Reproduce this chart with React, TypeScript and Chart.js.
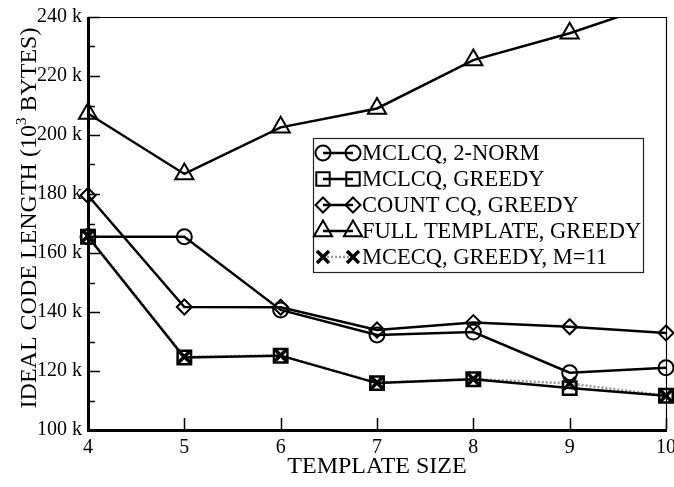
import React, { useEffect, useRef } from "react";
import { Chart, registerables } from "chart.js";

Chart.register(...registerables);

// ---- data ----
const templateSizes = [4, 5, 6, 7, 8, 9, 10];
const mclcq2Norm = [165.5, 165.5, 140.7, 132.2, 133.2, 119.4, 121.1];
const mclcqGreedy = [165.5, 124.6, 125.2, 115.9, 117.2, 114.2, 111.6];
const countCqGreedy = [179.5, 141.7, 141.6, 133.9, 136.4, 135.0, 132.9];
const fullTemplateGreedy = [207.3, 186.8, 202.6, 209.0, 225.4, 234.5, 245.5];
const mcecqGreedyM11 = [165.8, 124.8, 125.3, 116.0, 117.3, 115.8, 111.6];

const seriesNames = [
  "MCLCQ, 2-NORM",
  "MCLCQ, GREEDY",
  "COUNT CQ, GREEDY",
  "FULL TEMPLATE, GREEDY",
  "MCECQ, GREEDY, M=11",
];
const yTickValues = [100, 120, 140, 160, 180, 200, 220, 240];
const yMinorTickValues = [110, 130, 150, 170, 190, 210, 230];
const xTickValues = [4, 5, 6, 7, 8, 9, 10];
const xTickLabels = ["4", "5", "6", "7", "8", "9", "10"];
const xTitle = "TEMPLATE SIZE";
const yTitleMain = "IDEAL CODE LENGTH (10";
const yTitleSup = "3";
const yTitleEnd = " BYTES)";

const FONT = "'Liberation Serif', 'Times New Roman', serif";

type MarkerKind = "circle" | "rect" | "rectRot" | "triangle" | "crossRot";

function drawMarker(ctx: CanvasRenderingContext2D, kind: MarkerKind, x: number, y: number) {
  ctx.beginPath();
  if (kind === "circle") {
    ctx.arc(x, y, 7.5, 0, Math.PI * 2);
  } else if (kind === "rect") {
    ctx.rect(x - 6.7, y - 6.7, 13.4, 13.4);
  } else if (kind === "rectRot") {
    ctx.moveTo(x - 7.5, y);
    ctx.lineTo(x, y - 7.5);
    ctx.lineTo(x + 7.5, y);
    ctx.lineTo(x, y + 7.5);
    ctx.closePath();
  } else if (kind === "triangle") {
    const r = 10.5;
    ctx.moveTo(x, y - r);
    ctx.lineTo(x + r * Math.sin((2 * Math.PI) / 3), y + r / 2);
    ctx.lineTo(x - r * Math.sin((2 * Math.PI) / 3), y + r / 2);
    ctx.closePath();
  } else if (kind === "crossRot") {
    const h = 6;
    ctx.moveTo(x - h, y - h);
    ctx.lineTo(x + h, y + h);
    ctx.moveTo(x + h, y - h);
    ctx.lineTo(x - h, y + h);
  }
  ctx.stroke();
}

const legendKinds: MarkerKind[] = ["circle", "rect", "rectRot", "triangle", "crossRot"];

const decorPlugin = {
  id: "decor",
  afterDraw(chart: any) {
    const ctx: CanvasRenderingContext2D = chart.ctx;
    const { left, right, top, bottom } = chart.chartArea;
    const ys = chart.scales.y;
    const xs = chart.scales.x;
    ctx.save();
    ctx.strokeStyle = "#000";
    ctx.lineCap = "butt";
    // thin top / right borders
    ctx.lineWidth = 1.2;
    ctx.beginPath();
    ctx.moveTo(left, top + 0.5);
    ctx.lineTo(right + 0.5, top + 0.5);
    ctx.lineTo(right + 0.5, bottom);
    ctx.stroke();
    // thick left / bottom axes
    ctx.lineWidth = 3;
    ctx.beginPath();
    ctx.moveTo(left + 0.5, top);
    ctx.lineTo(left + 0.5, bottom + 0.5);
    ctx.lineTo(right + 1, bottom + 0.5);
    ctx.stroke();
    // inward tick marks
    ctx.lineWidth = 1.5;
    ctx.beginPath();
    yTickValues.forEach((v) => {
      const py = Math.round(ys.getPixelForValue(v)) + 0.5;
      ctx.moveTo(left, py);
      ctx.lineTo(left + 12, py);
    });
    yMinorTickValues.forEach((v) => {
      const py = Math.round(ys.getPixelForValue(v)) + 0.5;
      ctx.moveTo(left, py);
      ctx.lineTo(left + 7, py);
    });
    xTickValues.forEach((v) => {
      const px = Math.round(xs.getPixelForValue(v)) + 0.5;
      ctx.moveTo(px, bottom);
      ctx.lineTo(px, bottom - 12);
    });
    ctx.stroke();

    // x tick labels
    ctx.fillStyle = "#000";
    ctx.font = `20px ${FONT}`;
    ctx.textAlign = "center";
    ctx.textBaseline = "middle";
    xTickValues.forEach((v, i) => {
      ctx.fillText(xTickLabels[i], xs.getPixelForValue(v), 448);
    });

    // axis titles
    ctx.font = `24px ${FONT}`;
    ctx.textAlign = "center";
    ctx.textBaseline = "middle";
    ctx.fillText(xTitle, (left + right) / 2, 467);

    ctx.save();
    ctx.translate(28, 218);
    ctx.rotate(-Math.PI / 2);
    ctx.font = `24px ${FONT}`;
    const w1 = ctx.measureText(yTitleMain).width;
    ctx.font = `15px ${FONT}`;
    const w2 = ctx.measureText(yTitleSup).width;
    ctx.font = `24px ${FONT}`;
    const w3 = ctx.measureText(yTitleEnd).width;
    const total = w1 + w2 + w3;
    let sx = -total / 2;
    ctx.textAlign = "left";
    ctx.textBaseline = "alphabetic";
    ctx.fillText(yTitleMain, sx, 8);
    sx += w1;
    ctx.font = `15px ${FONT}`;
    ctx.fillText(yTitleSup, sx, -2);
    sx += w2;
    ctx.font = `24px ${FONT}`;
    ctx.fillText(yTitleEnd, sx, 8);
    ctx.restore();

    // legend
    const bx = 313, by = 138, bw = 330, bh = 134;
    ctx.fillStyle = "#fff";
    ctx.fillRect(bx, by, bw, bh);
    ctx.lineWidth = 1.2;
    ctx.strokeStyle = "#222";
    ctx.strokeRect(bx + 0.5, by + 0.5, bw, bh);
    const rowY = [153, 179, 205, 231, 257];
    const mx1 = 323, mx2 = 353;
    seriesNames.forEach((name, i) => {
      const y = rowY[i];
      const kind = legendKinds[i];
      ctx.save();
      if (kind === "crossRot") {
        ctx.strokeStyle = "#9a9a9a";
        ctx.lineWidth = 2.5;
        ctx.setLineDash([2, 2]);
      } else {
        ctx.strokeStyle = "#000";
        ctx.lineWidth = 2.5;
      }
      ctx.beginPath();
      ctx.moveTo(mx1, y);
      ctx.lineTo(mx2, y);
      ctx.stroke();
      ctx.restore();
      ctx.strokeStyle = "#000";
      ctx.lineWidth = kind === "crossRot" ? 3.5 : 2;
      drawMarker(ctx, kind, mx1, y);
      drawMarker(ctx, kind, mx2, y);
      ctx.fillStyle = "#000";
      ctx.font = `22.5px ${FONT}`;
      ctx.textAlign = "left";
      ctx.textBaseline = "middle";
      ctx.fillText(name, 362, y + 1);
    });
    ctx.restore();
  },
};

const toPoints = (vals: number[]) => templateSizes.map((x, i) => ({ x, y: vals[i] }));

export default function App() {
  const ref = useRef<HTMLCanvasElement | null>(null);

  useEffect(() => {
    if (!ref.current) return;
    const noClip = { left: 14, right: 14, top: 14, bottom: 14 };
    const chart = new Chart(ref.current, {
      type: "line",
      data: {
        datasets: [
          {
            label: seriesNames[0],
            data: toPoints(mclcq2Norm),
            borderColor: "#000",
            borderWidth: 2.5,
            pointStyle: "circle",
            pointRadius: 7.5,
            pointBorderWidth: 2,
            pointBorderColor: "#000",
            pointBackgroundColor: "rgba(0,0,0,0)",
            clip: noClip,
          },
          {
            label: seriesNames[1],
            data: toPoints(mclcqGreedy),
            borderColor: "#000",
            borderWidth: 2.5,
            pointStyle: "rect",
            pointRadius: 9.5,
            pointBorderWidth: 2.5,
            pointBorderColor: "#000",
            pointBackgroundColor: "rgba(0,0,0,0)",
            clip: noClip,
          },
          {
            label: seriesNames[2],
            data: toPoints(countCqGreedy),
            borderColor: "#000",
            borderWidth: 2.5,
            pointStyle: "rectRot",
            pointRadius: 7.5,
            pointBorderWidth: 2,
            pointBorderColor: "#000",
            pointBackgroundColor: "rgba(0,0,0,0)",
            clip: noClip,
          },
          {
            label: seriesNames[3],
            data: toPoints(fullTemplateGreedy),
            borderColor: "#000",
            borderWidth: 2.5,
            pointStyle: "triangle",
            pointRadius: 10.5,
            pointBorderWidth: 2,
            pointBorderColor: "#000",
            pointBackgroundColor: "rgba(0,0,0,0)",
            clip: { left: 14, right: 14, top: 0, bottom: 14 },
          },
          {
            label: seriesNames[4],
            data: toPoints(mcecqGreedyM11),
            borderColor: "#9a9a9a",
            borderWidth: 2.5,
            borderDash: [2, 2],
            pointStyle: "crossRot",
            pointRadius: 8.5,
            pointBorderWidth: 3.5,
            pointBorderColor: "#000",
            pointBackgroundColor: "rgba(0,0,0,0)",
            clip: noClip,
          },
        ] as any,
      },
      options: {
        animation: false,
        responsive: true,
        maintainAspectRatio: false,
        layout: { autoPadding: false, padding: { left: 0, right: 8, top: 17, bottom: 0 } },
        plugins: {
          legend: { display: false },
          tooltip: { enabled: false },
          title: { display: false },
        },
        elements: { line: { tension: 0 } },
        scales: {
          x: {
            type: "linear",
            min: 4,
            max: 10,
            grid: { display: false, drawTicks: false },
            border: { display: false },
            afterBuildTicks: (s: any) => {
              s.ticks = xTickValues.map((v) => ({ value: v }));
            },
            afterFit: (s: any) => {
              s.height = 57;
              s.paddingLeft = 0;
              s.paddingRight = 0;
            },
            ticks: { display: false },
          },
          y: {
            type: "linear",
            min: 100,
            max: 240,
            grid: { display: false, drawTicks: false },
            border: { display: false },
            afterBuildTicks: (s: any) => {
              s.ticks = yTickValues.map((v) => ({ value: v }));
            },
            afterFit: (s: any) => {
              s.width = 88;
              s.paddingTop = 0;
              s.paddingBottom = 0;
            },
            ticks: {
              color: "#000",
              font: { family: FONT, size: 20 },
              padding: 6,
              autoSkip: false,
              callback: (v: any) => `${v} k`,
            },
          },
        },
      },
      plugins: [decorPlugin],
    });
    return () => chart.destroy();
  }, []);

  return (
    <div style={{ position: "fixed", left: 0, top: 0, width: 674, height: 487, background: "#fff" }}>
      <canvas ref={ref} />
    </div>
  );
}
